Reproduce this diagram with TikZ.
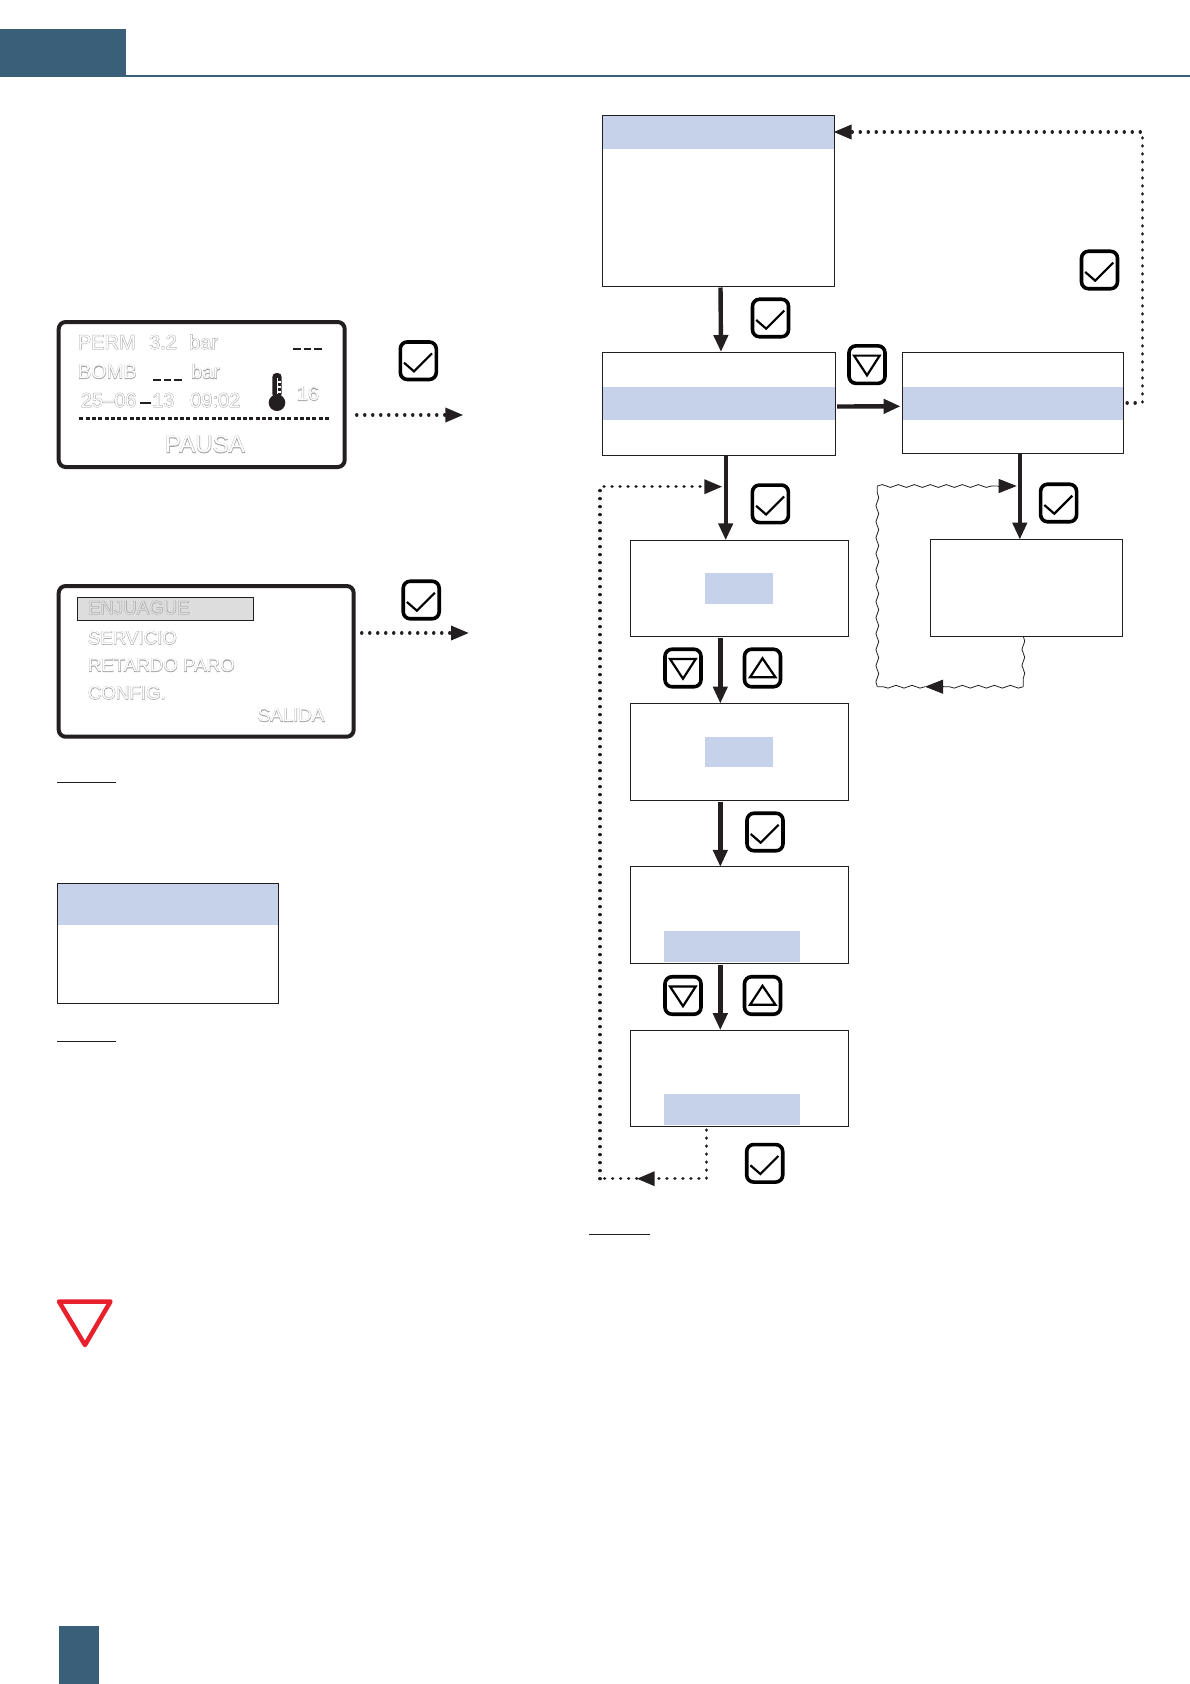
\documentclass[tikz,border=0pt]{standalone}
\usepackage{fontspec}
\setmainfont{Liberation Sans}
\newfontfamily\ghostfat[FakeBold=4,Ligatures=TeX]{Liberation Sans}
\usetikzlibrary{arrows.meta,positioning,calc,decorations.pathmorphing}
\definecolor{headblue}{RGB}{58,95,120}
\definecolor{softband}{RGB}{197,210,234}
\definecolor{inkline}{RGB}{35,31,32}
\definecolor{ghostline}{RGB}{165,165,165}
\definecolor{lcdhigh}{RGB}{221,221,221}
\definecolor{warnred}{RGB}{232,32,44}
\newcommand{\ghost}[2][white]{\rlap{\color{ghostline}\ghostfat #2}{\color{#1}#2}}

\begin{document}
\begin{tikzpicture}[x=1pt,y=-1pt,
  screen/.style={draw=inkline,line width=1pt,anchor=north west,outer sep=0pt,inner sep=0pt},
  lcd/.style={draw=inkline,line width=4pt,rounded corners=7pt,anchor=north west,outer sep=0pt,inner sep=0pt},
  band/.style={fill=softband,outer sep=0pt,inner sep=0pt},
  keybox/.style={draw=black,line width=3.6pt,rounded corners=7pt,minimum width=36pt,minimum height=37.5pt,inner sep=0pt},
  keymark/.style={draw=black,line width=2.2pt,sharp corners,shift={(path picture bounding box.center)}},
  okkey/.style={keybox,path picture={\draw[keymark] (-14.3,2)--(-4.3,10.7)--(13.7,-7.3);}},
  downkey/.style={keybox,path picture={\draw[keymark] (-13,-9)--(12.7,-9)--(0,10.7)--cycle;}},
  upkey/.style={keybox,path picture={\draw[keymark] (0,-9.7)--(13,9.3)--(-12.5,9.3)--cycle;}},
  flow/.style={draw=inkline,line width=4.4pt,shorten <=1.5pt,-{Triangle[width=14pt,length=17pt]}},
  dotflow/.style={draw=inkline,line width=3.4pt,line cap=round,dash pattern=on 0.1pt off 7.9pt,-{Triangle[width=14pt,length=18pt]}},
  dotplain/.style={draw=inkline,line width=3.4pt,line cap=round,dash pattern=on 0.1pt off 7.9pt},
  wavy/.style={draw=inkline,line width=0.8pt,decorate,decoration={snake,amplitude=1.4pt,segment length=16pt,post length=1pt}},
  wavytip/.style={draw=inkline,line width=0.8pt,-{Triangle[width=14pt,length=18pt]}},
  lcdtext/.style={anchor=base west,inner sep=0pt,font=\fontsize{20}{24}\selectfont},
  menutext/.style={anchor=base west,inner sep=0pt,font=\fontsize{18.7}{22}\selectfont},
  dashmark/.style={draw=inkline,line width=2pt,dash pattern=on 7.6pt off 3pt},
  shortrule/.style={draw=inkline,line width=1pt}]
\useasboundingbox (0,0) rectangle (1190,1684);

\fill[headblue] (0,29) rectangle (126,76.7);
\draw[headblue,line width=2pt] (126,75.7) -- (1190,75.7);
\fill[headblue] (59,1626) rectangle (99,1684);

\node[lcd,minimum width=286pt,minimum height=145pt] (lcdmain) at (58.7,322) {};
\node[lcdtext] (permlabel) at (77.7,349) {\ghost{PERM}};
\node[lcdtext] (permvalue) at (149,349) {\ghost{3.2}};
\node[lcdtext] (permunit) at (189,349) {\ghost{bar}};
\node[lcdtext] (bomblabel) at (77.7,378.7) {\ghost{BOMB}};
\node[lcdtext] (bombunit) at (191,378.7) {\ghost{bar}};
\node[lcdtext] (datepart) at (80.7,407) {\ghost{25--06}};
\node[lcdtext] (yearpart) at (152,407) {\ghost{13}};
\node[lcdtext] (timepart) at (190,407) {\ghost{09:02}};
\node[lcdtext] (tempvalue) at (296.7,400.7) {\ghost{16}};
\node[lcdtext,font=\fontsize{24}{28}\selectfont] (pauselabel) at (165,452.7) {\ghost{PAUSA}};
\draw[dashmark] (293,348.7) -- (322,348.7);
\draw[dashmark] (153,380) -- (182,380);
\draw[inkline,line width=2.6pt] (140,403) -- (150.7,403);
\draw[inkline,line width=2.8pt,dash pattern=on 4pt off 2.3pt] (79.3,418.3) -- (330,418.3);
\fill[inkline] (277,402.7) circle (8.3);
\fill[inkline,rounded corners=4pt] (272.3,373) rectangle (281.7,398);
\draw[white,line width=1.1pt] (277.5,378) -- (277.5,394) (277.5,382) -- (281,382) (277.5,387) -- (281,387) (277.5,392) -- (281,392);

\node[lcd,minimum width=295pt,minimum height=150.7pt] (lcdmenu) at (58.7,586) {};
\node[draw=inkline,line width=1pt,fill=lcdhigh,anchor=north west,minimum width=176pt,minimum height=23.2pt,inner sep=0pt] (rowhigh) at (76.5,596.5) {};
\node[menutext] (rowrinse) at (87.7,614) {\ghost[lcdhigh]{ENJUAGUE}};
\node[menutext] (rowservice) at (87.7,644.3) {\ghost{SERVICIO}};
\node[menutext] (rowdelay) at (87.7,671.7) {\ghost{RETARDO PARO}};
\node[menutext] (rowconfig) at (87.7,699.3) {\ghost{CONFIG.}};
\node[menutext] (rowexit) at (257.7,721.7) {\ghost{SALIDA}};

\node[okkey] (okpause) at (418.3,360.7) {};
\node[okkey] (okmenu) at (421.2,600) {};
\coordinate (pausetip) at (463.3,415);
\coordinate (menutip) at (469,633);
\draw[dotflow,shorten <=12pt] (lcdmain.east |- pausetip) -- (pausetip);
\draw[dotflow,shorten <=8pt] (lcdmenu.east |- menutip) -- (menutip);

\draw[shortrule] (57,782) -- (116,782);
\node[screen,minimum width=221.4pt,minimum height=120pt] (tablebox) at (57.3,883.3) {};
\node[band,below=0.5pt of tablebox.north,minimum width=220.4pt,minimum height=41pt] (tableband) {};
\draw[shortrule] (57,1041.3) -- (116,1041.3);
\draw[warnred,line width=4.5pt,line join=round] (59,1301.5) -- (110.5,1301.5) -- (85,1345) -- cycle;
\draw[shortrule] (589,1234) -- (650,1234);

\node[screen,minimum width=232pt,minimum height=171pt] (menua) at (602.5,115) {};
\node[band,below=0.5pt of menua.north,minimum width=231pt,minimum height=33pt] (menuband) {};
\node[screen,below=66pt of menua.south west,anchor=north west,minimum width=233pt,minimum height=103pt] (modeb) {};
\node[band,below=34.5pt of modeb.north,minimum width=232pt,minimum height=33pt] (modeband) {};
\node[screen,right=66.6pt of modeb.north east,anchor=north west,minimum width=221pt,minimum height=101.6pt] (modec) {};
\node[band,below=34.5pt of modec.north,minimum width=220pt,minimum height=33.5pt] (moderband) {};
\node[screen,below=86pt of modec.south east,anchor=north east,xshift=-1pt,minimum width=192pt,minimum height=97pt] (recover) {};

\node[screen,minimum width=218pt,minimum height=96.5pt] (valuea) at (630.3,540.3) {};
\node[band,below=33pt of valuea.north,minimum width=68pt,minimum height=30.5pt] (fielda) {};
\node[screen,below=66.8pt of valuea.south west,anchor=north west,minimum width=218pt,minimum height=96.5pt] (valueb) {};
\node[band,below=33.5pt of valueb.north,minimum width=68pt,minimum height=30pt] (fieldb) {};
\node[screen,below=66.8pt of valueb.south west,anchor=north west,minimum width=218pt,minimum height=96.5pt] (valuec) {};
\node[band,below=64pt of valuec.north,xshift=-7.3pt,minimum width=136pt,minimum height=31pt] (fieldc) {};
\node[screen,below=66.8pt of valuec.south west,anchor=north west,minimum width=218pt,minimum height=96.5pt] (valued) {};
\node[band,below=64pt of valued.north,xshift=-7.3pt,minimum width=136pt,minimum height=31pt] (fieldd) {};

\node[okkey] (oktop) at (770.5,318) {};
\node[okkey] (okloop) at (1099.5,270) {};
\node[downkey] (downtop) at (867,364.6) {};
\node[okkey] (okvalue) at (770.4,503.8) {};
\node[okkey] (okrecover) at (1058.6,503) {};
\node[downkey] (downa) at (683,668) {};
\node[upkey] (upa) at (762.5,668) {};
\node[okkey] (okb) at (765,832) {};
\node[downkey] (downc) at (683,995.5) {};
\node[upkey] (upc) at (762.5,995.5) {};
\node[okkey] (okd) at (764.7,1163.3) {};

\draw[flow] ([xshift=2pt]menua.south) -- ([xshift=2pt]modeb.north);
\draw[flow,shorten >=1.5pt] ([yshift=-3pt]modeb.east) -- ([yshift=-3.5pt]modec.west);
\draw[flow,shorten <=0pt] ([xshift=6.7pt]modeb.south) -- ([xshift=-13.6pt]valuea.north);
\draw[flow] ([xshift=-19pt]valuea.south) -- ([xshift=-19pt]valueb.north);
\draw[flow] ([xshift=-19pt]valueb.south) -- ([xshift=-19pt]valuec.north);
\draw[flow] ([xshift=-19pt]valuec.south) -- ([xshift=-19pt]valued.north);
\draw[flow,shorten <=0pt] ([xshift=7.2pt]modec.south) -- ([xshift=-6.3pt]recover.north);

\coordinate (looptop) at (1142.3,132);
\draw[dotflow,shorten <=4pt,shorten >=-1pt] (modec.east) -- (modec.east -| looptop) -- (looptop) -- (looptop -| menua.east);

\coordinate (backstart) at (706.3,1130);
\coordinate (backcorner) at (706.3,1178.7);
\coordinate (backmid) at (636.7,1178.7);
\coordinate (backleft) at (600,1178.7);
\coordinate (backtop) at (600,486.7);
\coordinate (backtip) at (722.3,486.7);
\draw[dotflow] (backstart) -- (backcorner) -- (backmid);
\draw[dotplain] (backmid) -- (backleft);
\draw[dotflow] (backleft) -- (backtop) -- (backtip);

\coordinate (wavestart) at (1023.3,636.3);
\coordinate (wavecorner) at (1023.3,686.7);
\coordinate (wavebase) at (942.9,686.7);
\coordinate (wavemid) at (925,686.7);
\coordinate (waveleft) at (877.3,686.7);
\coordinate (wavetop) at (877.3,486);
\coordinate (wavehead) at (998,486);
\coordinate (wavetip) at (1016.7,486);
\draw[wavy] (wavestart) -- (wavecorner);
\draw[wavy] (wavecorner) -- (wavebase);
\draw[wavytip] (wavebase) -- (wavemid);
\draw[wavy] (wavemid) -- (waveleft);
\draw[wavy] (waveleft) -- (wavetop);
\draw[wavy] (wavetop) -- (wavehead);
\draw[wavytip] (wavehead) -- (wavetip);
\end{tikzpicture}
\end{document}
